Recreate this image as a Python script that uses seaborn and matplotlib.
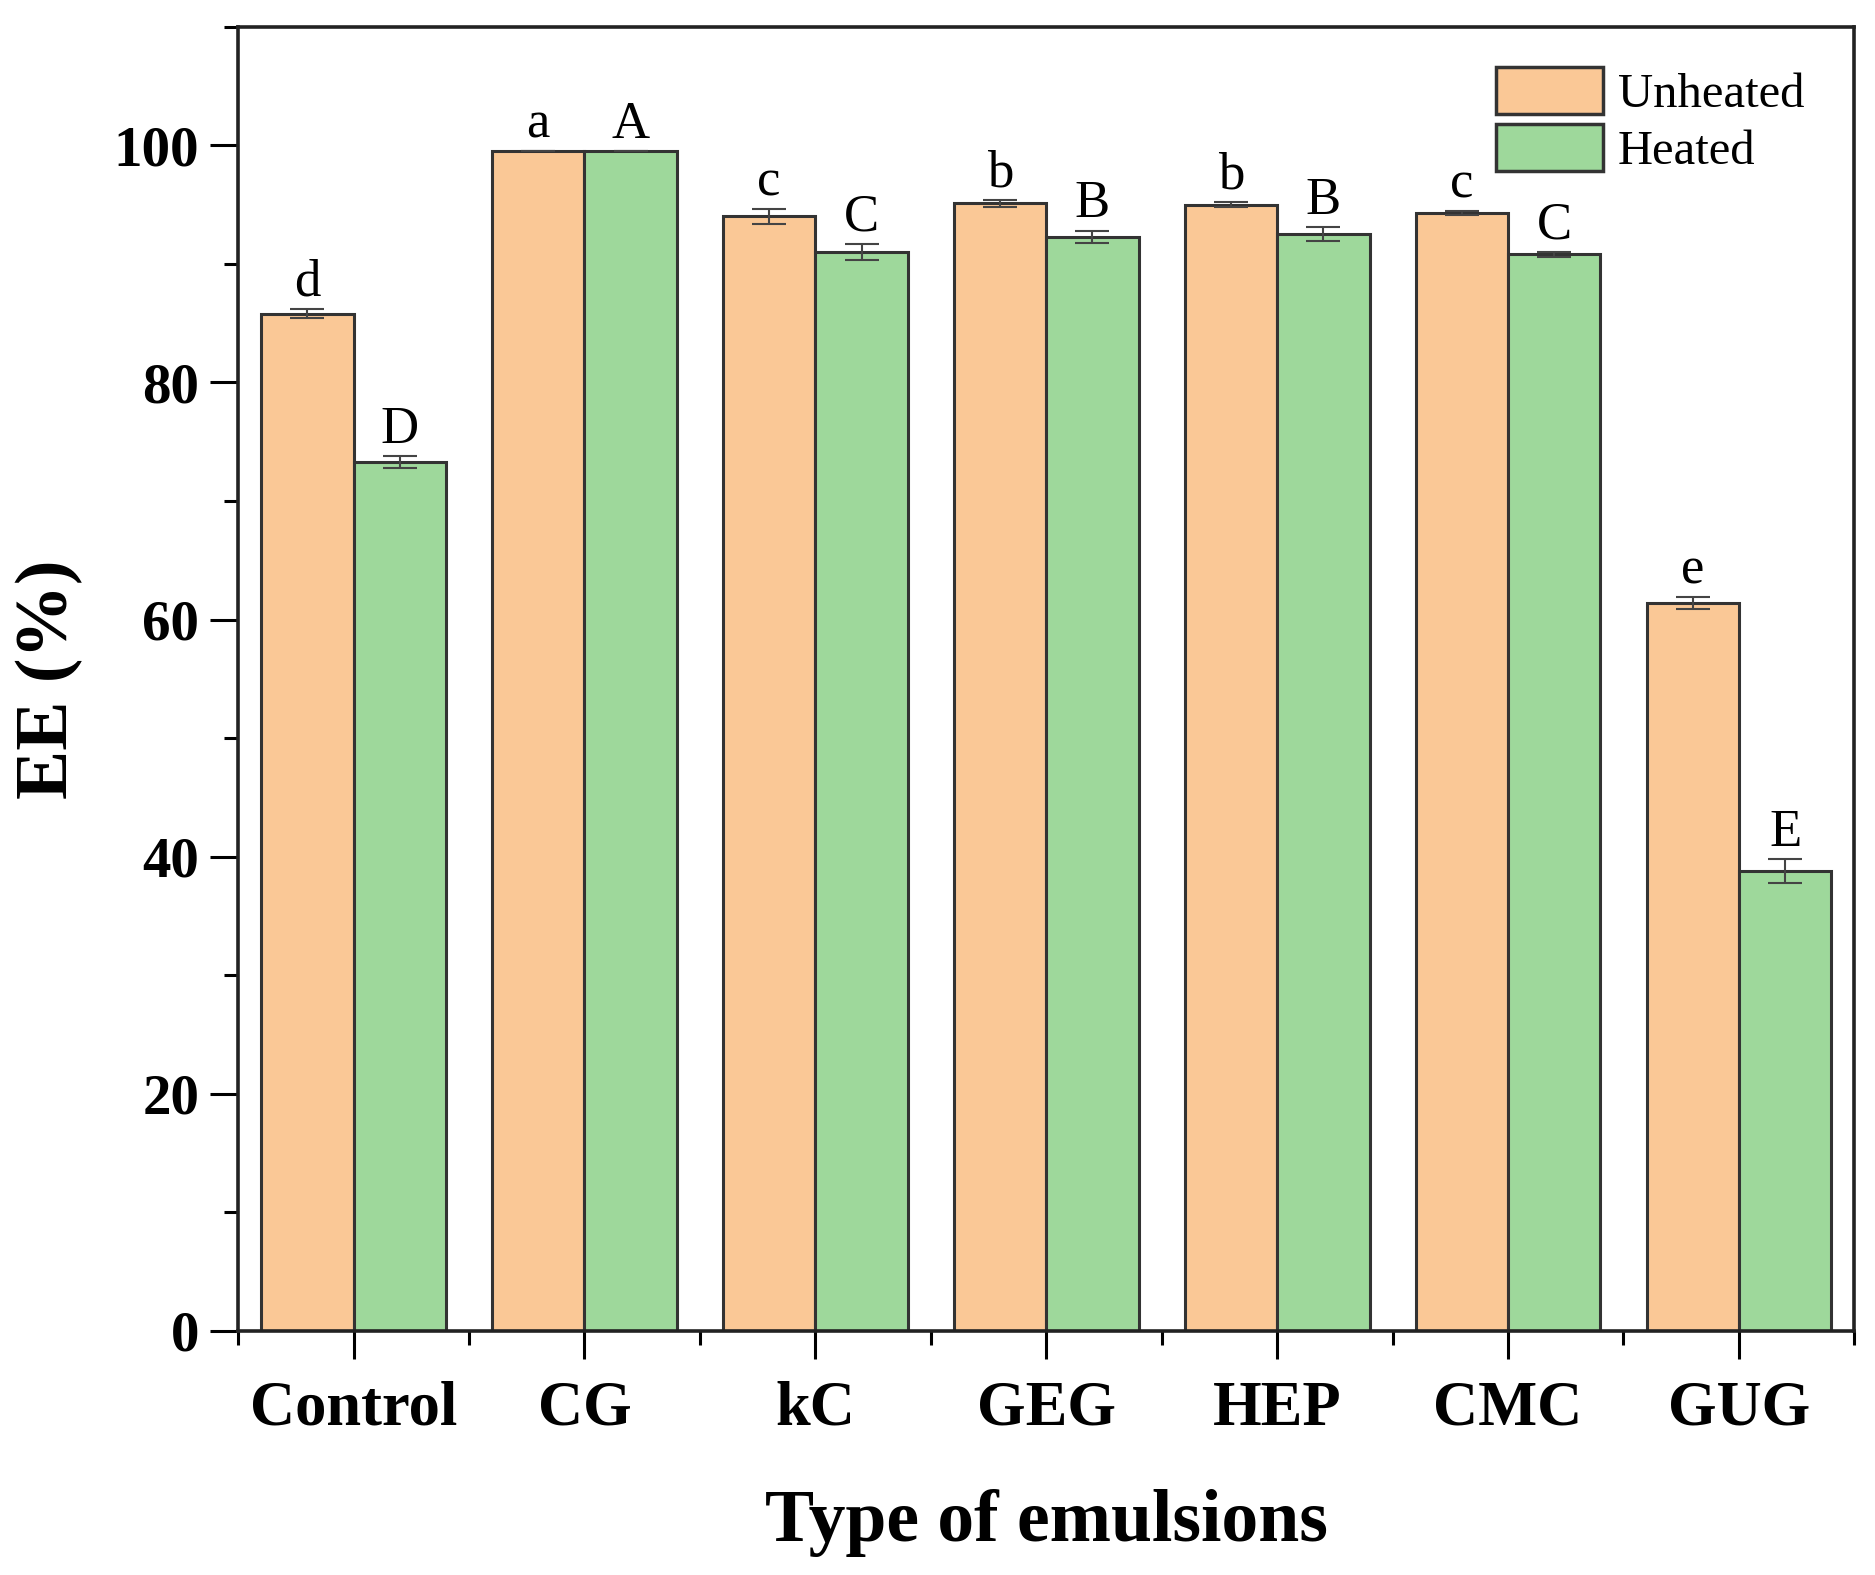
import numpy as np
import pandas as pd
import matplotlib
matplotlib.use("Agg")
import matplotlib.pyplot as plt
import seaborn as sns
from matplotlib.ticker import MultipleLocator, FixedLocator

# Données
emulsions = ["Control", "CG", "kC", "GEG", "HEP", "CMC", "GUG"]
unheated = [85.8, 99.5, 94.0, 95.1, 95.0, 94.3, 61.4]
heated = [73.3, 99.5, 91.0, 92.3, 92.5, 90.8, 38.8]
unheated_err = [0.4, 0.0, 0.6, 0.3, 0.2, 0.2, 0.5]
heated_err = [0.5, 0.0, 0.7, 0.5, 0.6, 0.2, 1.0]
letters_unheated = ["d", "a", "c", "b", "b", "c", "e"]
letters_heated = ["D", "A", "C", "B", "B", "C", "E"]

df = pd.DataFrame({
    "Type": emulsions * 2,
    "EE": unheated + heated,
    "err": unheated_err + heated_err,
    "lettre": letters_unheated + letters_heated,
    "Traitement": ["Unheated"] * 7 + ["Heated"] * 7,
})

sns.set_theme(style="ticks")
plt.rcParams['font.family'] = ['Liberation Serif', 'DejaVu Serif']
plt.rcParams['text.color'] = 'black'
plt.rcParams['xtick.color'] = 'black'
plt.rcParams['ytick.color'] = 'black'
plt.rcParams['axes.labelcolor'] = 'black'

fig = plt.figure(figsize=(18.75, 15.75), dpi=100)
ax = fig.add_axes([0.127, 0.155, 0.862, 0.828])

palette = {"Unheated": "#FAC896", "Heated": "#9ED89B"}
sns.barplot(data=df, x="Type", y="EE", hue="Traitement", palette=palette,
            width=0.8, edgecolor="#333333", linewidth=2.2, saturation=1,
            errorbar=None, ax=ax)

# barres d'erreur + lettres
for cont, trait in zip(ax.containers, ["Unheated", "Heated"]):
    sub = df[df["Traitement"] == trait]
    xs = [p.get_x() + p.get_width() / 2 for p in cont]
    ax.errorbar(xs, sub["EE"], yerr=sub["err"], fmt="none", ecolor="#444444",
                elinewidth=1.5, capsize=12, capthick=1.5)
    for x, v, e, lt in zip(xs, sub["EE"], sub["err"], sub["lettre"]):
        ax.text(x, v + e + 0.2, lt, ha="center", va="bottom", fontsize=38)

ax.set_xlim(-0.5, 6.5)
ax.set_ylim(0, 110)
ax.yaxis.set_major_locator(MultipleLocator(20))
ax.yaxis.set_minor_locator(MultipleLocator(10))
ax.xaxis.set_minor_locator(FixedLocator(np.arange(-0.5, 7, 1)))

ax.tick_params(axis="both", which="major", direction="out", length=20, width=2.2)
ax.tick_params(axis="both", which="minor", direction="out", length=10, width=2.2)
ax.tick_params(axis="y", labelsize=41, pad=8)
ax.tick_params(axis="x", labelsize=45, pad=16)
for lab in ax.get_xticklabels() + ax.get_yticklabels():
    lab.set_fontweight("bold")

for sp in ax.spines.values():
    sp.set_visible(True)
    sp.set_linewidth(2.6)
    sp.set_color("#222222")

ax.set_xlabel("Type of emulsions", fontsize=53, fontweight="bold", labelpad=36)
ax.set_ylabel("EE (%)", fontsize=53, fontweight="bold", labelpad=22)

leg = ax.legend(loc="upper right", frameon=False, fontsize=35, handlelength=2.2,
                handleheight=1.1, labelspacing=0.15, handletextpad=0.3,
                borderaxespad=0.3, bbox_to_anchor=(0.99, 0.995))
for h in leg.legend_handles:
    h.set_edgecolor("#333333")
    h.set_linewidth(2.5)

fig.savefig("out.png", dpi=100)
